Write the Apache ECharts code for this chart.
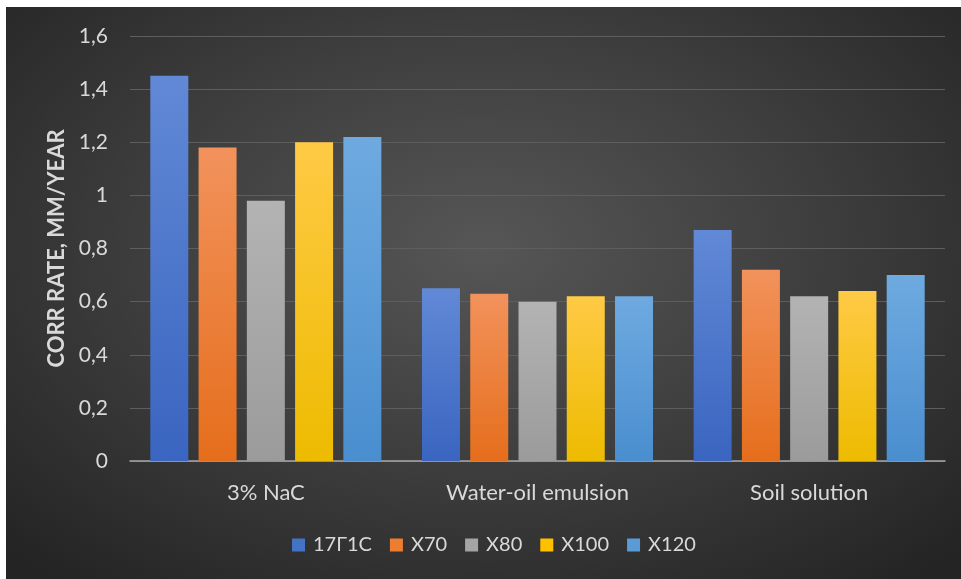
<!DOCTYPE html>
<html><head><meta charset="utf-8">
<script src="https://cdn.jsdelivr.net/npm/echarts@6/dist/echarts.min.js"></script>
<style>
html,body{margin:0;padding:0;background:#fff;width:961px;height:579px;overflow:hidden}
#c{position:absolute;left:6px;top:7px;width:955px;height:572px;
background:radial-gradient(ellipse 70% 75% at 50% 42%, #565656 0%, #3e3e3e 50%, #242424 100%);}
</style></head>
<body><div id="c"></div>
<script>
const categories = ['3% NaC', 'Water-oil emulsion', 'Soil solution'];
const seriesNames = ['17Г1С', 'X70', 'X80', 'X100', 'X120'];
const s17G1S = [1.45, 0.65, 0.87];
const sX70 = [1.18, 0.63, 0.72];
const sX80 = [0.98, 0.60, 0.62];
const sX100 = [1.20, 0.62, 0.64];
const sX120 = [1.22, 0.62, 0.70];
const yTicks = [0, 0.2, 0.4, 0.6, 0.8, 1, 1.2, 1.4, 1.6];

const values = [s17G1S, sX70, sX80, sX100, sX120];
const colors = [
  ['#6189d6', '#3a65c0', '#4472C4'],
  ['#f2925c', '#e56e1c', '#ED7D31'],
  ['#b3b3b3', '#9b9b9b', '#A5A5A5'],
  ['#ffca45', '#edbb00', '#FFC000'],
  ['#6eaae0', '#4a8ecf', '#5B9BD5']
];
const font = 'Lato, "Open Sans", sans-serif';
const chart = echarts.init(document.getElementById('c'));
chart.setOption({
  backgroundColor: 'transparent',
  textStyle: {fontFamily: font},
  grid: {left: 124, right: 16, top: 29, bottom: 118},
  legend: {
    data: seriesNames.map((n, i) => ({name: n, itemStyle: {color: colors[i][2]}})),
    bottom: 19, left: 281, itemWidth: 13, itemHeight: 13, itemGap: 18,
    icon: 'rect',
    textStyle: {color: '#d9d9d9', fontSize: 20, fontFamily: font, padding: [0, 0, 0, 3]}
  },
  xAxis: {
    type: 'category', data: categories,
    axisLine: {lineStyle: {color: '#a6a6a6', width: 1.5}},
    axisTick: {show: false},
    axisLabel: {color: '#d9d9d9', fontSize: 22, margin: 21, fontFamily: font}
  },
  yAxis: {
    type: 'value', min: 0, max: 1.6, interval: 0.2,
    name: 'CORR RATE, MM/YEAR', nameLocation: 'middle', nameGap: 60,
    nameTextStyle: {color: '#d9d9d9', fontSize: 22, fontWeight: 'bold', fontFamily: font},
    axisLine: {show: false}, axisTick: {show: false},
    splitLine: {lineStyle: {color: '#5e5e5e', width: 1}},
    axisLabel: {color: '#d9d9d9', fontSize: 21, margin: 22, fontFamily: font,
      formatter: v => String(Math.round(v * 10) / 10).replace('.', ',')}
  },
  series: values.map((d, i) => ({
    name: seriesNames[i], type: 'bar', data: d,
    barWidth: 38, barGap: '27%',
    itemStyle: {
      color: new echarts.graphic.LinearGradient(0, 0, 0, 1, [
        {offset: 0, color: colors[i][0]}, {offset: 1, color: colors[i][1]}]),
      shadowColor: 'rgba(0,0,0,0.55)', shadowBlur: 4, shadowOffsetX: 1, shadowOffsetY: 1
    }
  }))
});
</script></body></html>
